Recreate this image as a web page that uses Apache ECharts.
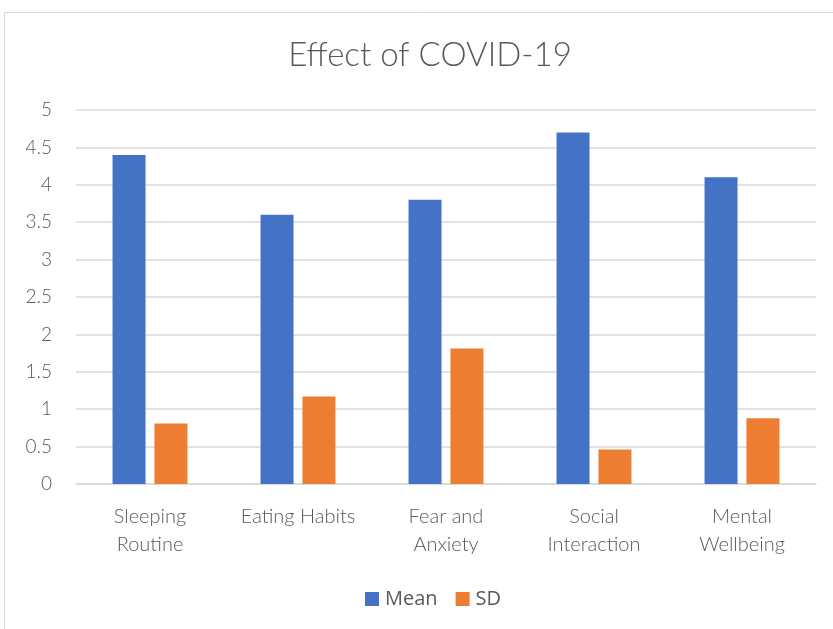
<!DOCTYPE html>
<html>
<head>
<meta charset="utf-8">
<script src="https://cdn.jsdelivr.net/npm/echarts@6/dist/echarts.min.js"></script>
<style>
  html, body { margin: 0; padding: 0; background: #fff; }
  #main { width: 833px; height: 629px; }
</style>
</head>
<body>
<div id="main"></div>
<script>
// chart data
const categories = ['Sleeping\nRoutine', 'Eating Habits', 'Fear and\nAnxiety', 'Social\nInteraction', 'Mental\nWellbeing'];
const meanValues = [4.4, 3.6, 3.8, 4.7, 4.1];
const sdValues = [0.81, 1.17, 1.81, 0.46, 0.88];
const yTicks = ['0', '0.5', '1', '1.5', '2', '2.5', '3', '3.5', '4', '4.5', '5'];

const chart = echarts.init(document.getElementById('main'), null, { renderer: 'canvas' });

const textColor = '#595959';
const labelFont = 'Lato, "Open Sans", sans-serif';

const option = {
  animation: false,
  backgroundColor: '#fff',
  graphic: [{
    type: 'rect',
    shape: { x: 4.5, y: 12.5, width: 840, height: 640 },
    style: { fill: 'none', stroke: '#d9d9d9', lineWidth: 1 },
    silent: true
  }],
  title: {
    text: 'Effect of COVID-19',
    left: 425,
    top: 34,
    textAlign: 'center',
    textStyle: {
      color: textColor,
      fontFamily: labelFont,
      fontWeight: 300,
      fontSize: 33
    }
  },
  legend: {
    data: ['Mean', 'SD'],
    left: 360,
    top: 584,
    itemWidth: 14,
    itemHeight: 14,
    itemGap: 18,
    icon: 'rect',
    textStyle: {
      color: textColor,
      fontFamily: '"Open Sans", sans-serif',
      fontSize: 20,
      padding: [0, 0, 0, 1]
    }
  },
  grid: {
    left: 76,
    right: 17,
    top: 110,
    bottom: 145,
    containLabel: false
  },
  xAxis: {
    type: 'category',
    data: categories,
    axisLine: { lineStyle: { color: '#d9d9d9', width: 1.5 } },
    axisTick: { show: false },
    axisLabel: {
      interval: 0,
      hideOverlap: false,
      color: textColor,
      fontFamily: labelFont,
      fontWeight: 300,
      fontSize: 20,
      lineHeight: 28,
      margin: 19
    }
  },
  yAxis: {
    type: 'value',
    min: 0,
    max: 5,
    interval: 0.5,
    axisLine: { show: false },
    axisTick: { show: false },
    splitLine: { lineStyle: { color: '#d9d9d9', width: 1.5 } },
    axisLabel: {
      color: textColor,
      fontFamily: labelFont,
      fontWeight: 300,
      fontSize: 19,
      margin: 24,
      formatter: function (v) {
        return yTicks[Math.round(v * 2)];
      }
    }
  },
  series: [{
    name: 'Mean',
    type: 'bar',
    data: meanValues,
    barWidth: 33,
    barGap: '27%',
    itemStyle: { color: '#4472c4' }
  }, {
    name: 'SD',
    type: 'bar',
    data: sdValues,
    barWidth: 33,
    itemStyle: { color: '#ed7d31' }
  }]
};

chart.setOption(option);
</script>
</body>
</html>
